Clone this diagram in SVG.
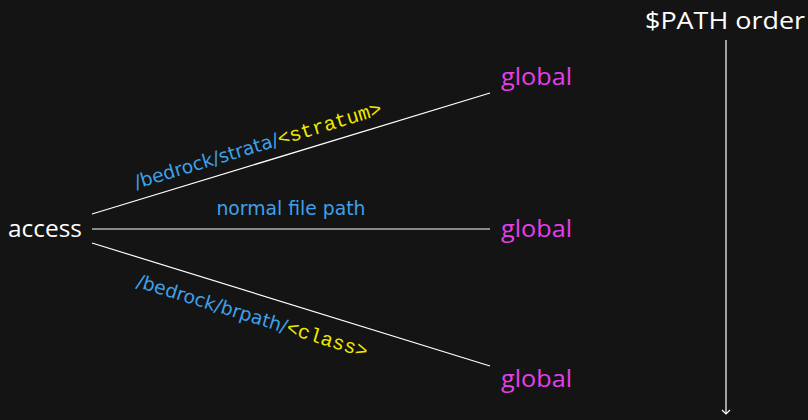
<svg xmlns="http://www.w3.org/2000/svg" width="808" height="420" viewBox="0 0 808 420">
<style>
.bg{fill:#141414}
.edge{stroke:#ffffff;stroke-width:1.2;fill:none}
.node{font-family:"Open Sans",sans-serif;font-size:24px}
.w{fill:#ffffff}
.g{fill:#e83ee8}
.lbl{font-family:"DejaVu Sans",sans-serif;font-size:18.8px;fill:#3fa0e8}
.mono{font-family:"Liberation Mono","DejaVu Sans Mono",monospace;fill:#f0e800;font-size:20px}
</style>
<defs>
<marker id="arr" markerWidth="10" markerHeight="10" refX="5" refY="5" orient="auto" markerUnits="userSpaceOnUse">
<path d="M1,1 L5,5 L1,9" fill="none" stroke="#ffffff" stroke-width="1.2"/>
</marker>
</defs>
<rect class="bg" x="0" y="0" width="808" height="420"/>
<g id="connectors">
<line class="edge" x1="92" y1="214" x2="490" y2="93"/>
<line class="edge" x1="92" y1="229" x2="490" y2="229"/>
<line class="edge" x1="92" y1="243" x2="490" y2="366"/>
<line class="edge" x1="726" y1="40" x2="726" y2="414" marker-end="url(#arr)"/>
<g transform="translate(263,162) rotate(-16.9)"><text class="lbl" x="0" y="-11" text-anchor="middle">/bedrock/strata/<tspan class="mono">&lt;stratum&gt;</tspan></text></g>
<text class="lbl" x="291" y="215" text-anchor="middle">normal file path</text>
<g transform="translate(259,294.6) rotate(17.2)"><text class="lbl" x="0" y="29" text-anchor="middle">/bedrock/brpath/<tspan class="mono">&lt;class&gt;</tspan></text></g>
</g>
<g id="access"><text class="node w" x="8" y="237" textLength="74" lengthAdjust="spacingAndGlyphs">access</text></g>
<g id="global1"><text class="node g" x="501" y="85" textLength="71" lengthAdjust="spacingAndGlyphs">global</text></g>
<g id="global2"><text class="node g" x="501" y="237" textLength="71" lengthAdjust="spacingAndGlyphs">global</text></g>
<g id="global3"><text class="node g" x="501" y="387" textLength="71" lengthAdjust="spacingAndGlyphs">global</text></g>
<g id="path"><text class="node w" x="645" y="29" textLength="160" lengthAdjust="spacingAndGlyphs">$PATH order</text></g>
</svg>
